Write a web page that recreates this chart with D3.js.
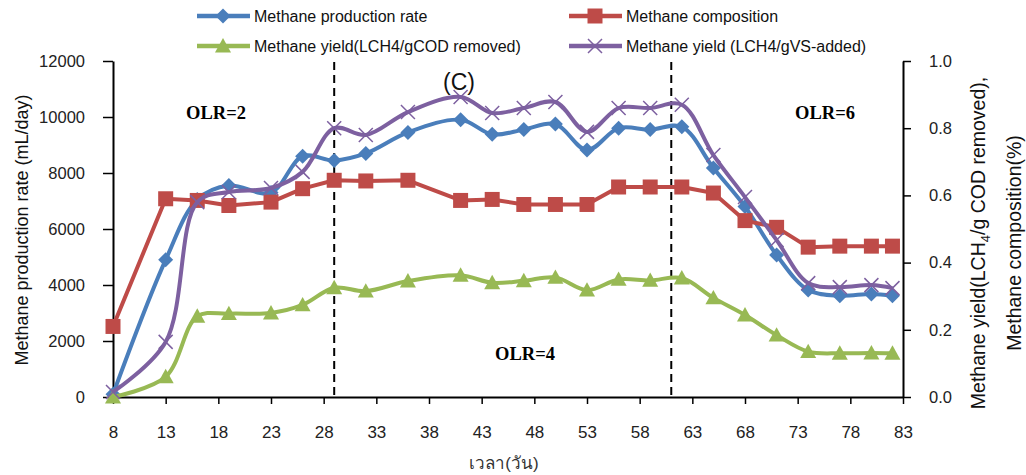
<!DOCTYPE html>
<html>
<head>
<meta charset="utf-8">
<script src="https://cdn.jsdelivr.net/npm/d3@7"></script>
<style>
  body { margin: 0; background: #fff; }
</style>
</head>
<body>
<div id="chart"></div>
<script>
// days of operation
const days = [8, 13, 16, 19, 23, 26, 29, 32, 36, 41, 44, 47, 50, 53, 56, 59, 62, 65, 68, 71, 74, 77, 80, 82];
// left axis (mL/day)
const productionRate = [100, 4900, 7050, 7550, 7300, 8600, 8450, 8700, 9450, 9900, 9380, 9550, 9750, 8820, 9600, 9550, 9650, 8180, 6800, 5070, 3820, 3620, 3680, 3620];
// right axis
const composition = [0.21, 0.59, 0.585, 0.57, 0.58, 0.62, 0.645, 0.643, 0.645, 0.585, 0.588, 0.573, 0.573, 0.573, 0.625, 0.625, 0.625, 0.607, 0.525, 0.505, 0.446, 0.449, 0.449, 0.449];
const yieldCOD = [0.0, 0.06, 0.24, 0.248, 0.25, 0.274, 0.325, 0.315, 0.345, 0.362, 0.34, 0.346, 0.356, 0.318, 0.35, 0.347, 0.354, 0.295, 0.244, 0.184, 0.135, 0.13, 0.131, 0.13];
const yieldVS = [0.015, 0.164, 0.58, 0.61, 0.622, 0.67, 0.8, 0.78, 0.848, 0.893, 0.845, 0.86, 0.878, 0.789, 0.86, 0.86, 0.87, 0.72, 0.595, 0.467, 0.339, 0.327, 0.333, 0.324];

const xTicks = d3.range(8, 84, 5);
const leftTicks = [0, 2000, 4000, 6000, 8000, 10000, 12000];
const rightTicks = [0, 0.2, 0.4, 0.6, 0.8, 1.0];
const olrBreaks = [29, 61];

const width = 1026, height = 475;
const svg = d3.select("#chart").append("svg")
    .attr("width", width)
    .attr("height", height)
    .attr("font-family", "'Liberation Sans', Arial, sans-serif");

const x = d3.scaleLinear().domain([8, 83]).range([113, 903]);
const yL = d3.scaleLinear().domain([0, 12000]).range([397, 61]);
const yR = d3.scaleLinear().domain([0, 1]).range([397, 61]);

// axes
const gx = svg.append("g")
    .attr("transform", "translate(0,397)")
    .call(d3.axisBottom(x).tickValues(xTicks).tickSize(7).tickPadding(22).tickSizeOuter(0));
const gl = svg.append("g")
    .attr("transform", "translate(113,0)")
    .call(d3.axisLeft(yL).tickValues(leftTicks).tickFormat(d3.format("d")).tickSize(10).tickPadding(18).tickSizeOuter(0));
const gr = svg.append("g")
    .attr("transform", "translate(903,0)")
    .call(d3.axisRight(yR).tickValues(rightTicks).tickFormat(d3.format(".1f")).tickSize(8).tickPadding(18).tickSizeOuter(0));

[gx, gl, gr].forEach(g => {
    g.attr("font-family", null).attr("font-size", null);
    g.select(".domain").attr("stroke", "#000").attr("stroke-width", 2);
    g.selectAll(".tick line").attr("stroke", "#000").attr("stroke-width", 1.5);
    g.selectAll(".tick text").attr("font-size", 16.5).attr("fill", "#222");
});
gx.selectAll(".tick text").attr("font-size", 17);

// axis titles
svg.append("text")
    .attr("transform", "translate(22,230) rotate(-90)")
    .attr("text-anchor", "middle")
    .attr("dy", "0.35em")
    .attr("font-size", 18)
    .attr("fill", "#111")
    .text("Methane production rate (mL/day)");

const rt = svg.append("text")
    .attr("transform", "translate(978,243) rotate(-90)")
    .attr("text-anchor", "middle")
    .attr("dy", "0.35em")
    .attr("font-size", 19.5)
    .attr("fill", "#111");
rt.append("tspan").text("Methane yield(LCH");
rt.append("tspan").attr("font-size", 13).attr("dy", 5).text("4");
rt.append("tspan").attr("dy", -5).text("/g COD removed),");

svg.append("text")
    .attr("transform", "translate(1014,243) rotate(-90)")
    .attr("text-anchor", "middle")
    .attr("dy", "0.35em")
    .attr("font-size", 19.5)
    .attr("fill", "#111")
    .text("Methane composition(%)");

svg.append("text")
    .attr("x", 504).attr("y", 469)
    .attr("text-anchor", "middle")
    .attr("font-size", 17)
    .attr("fill", "#333")
    .text("เวลา(วัน)");

// OLR separators
svg.append("g").selectAll("line")
    .data(olrBreaks)
    .enter().append("line")
    .attr("x1", d => x(d)).attr("x2", d => x(d))
    .attr("y1", 62).attr("y2", 396)
    .attr("stroke", "#000")
    .attr("stroke-width", 2)
    .attr("stroke-dasharray", "8,5");

// markers
function marker(type, s) {
    if (type === "diamond") return `M0,${-s}L${s},0L0,${s}L${-s},0Z`;
    if (type === "square") return `M${-s},${-s}H${s}V${s}H${-s}Z`;
    if (type === "triangle") return `M0,${-s}L${s},${s * 0.8}L${-s},${s * 0.8}Z`;
    return `M${-s},${-s}L${s},${s}M${s},${-s}L${-s},${s}`;
}

const series = [
    { name: "Methane production rate", values: productionRate, y: yL, color: "#4a7ebb", shape: "diamond", size: 7.5, curve: d3.curveCatmullRom },
    { name: "Methane composition", values: composition, y: yR, color: "#be4b48", shape: "square", size: 7.5, curve: d3.curveLinear },
    { name: "Methane yield(LCH4/gCOD removed)", values: yieldCOD, y: yR, color: "#98b954", shape: "triangle", size: 8, curve: d3.curveCatmullRom },
    { name: "Methane yield (LCH4/gVS-added)", values: yieldVS, y: yR, color: "#7d60a0", shape: "cross", size: 7, curve: d3.curveCatmullRom }
];

series.forEach(s => {
    const pts = days.map((d, i) => [d, s.values[i]]);
    const line = d3.line().x(d => x(d[0])).y(d => s.y(d[1])).curve(s.curve);
    svg.append("path")
        .datum(pts)
        .attr("fill", "none")
        .attr("stroke", s.color)
        .attr("stroke-width", 4)
        .attr("stroke-linejoin", "round")
        .attr("d", line);
    svg.append("g").selectAll("path")
        .data(pts)
        .enter().append("path")
        .attr("transform", d => `translate(${x(d[0])},${s.y(d[1])})`)
        .attr("d", marker(s.shape, s.size))
        .attr("fill", s.shape === "cross" ? "none" : s.color)
        .attr("stroke", s.color)
        .attr("stroke-width", s.shape === "cross" ? 1.5 : 0);
});

// legend
const legendPos = [[197, 16], [569, 16], [197, 46], [569, 46]];
series.forEach((s, i) => {
    const [lx, ly] = legendPos[i];
    const g = svg.append("g").attr("transform", `translate(${lx},${ly})`);
    g.append("line").attr("x1", 0).attr("x2", 53).attr("y1", 0).attr("y2", 0)
        .attr("stroke", s.color).attr("stroke-width", 4.5);
    g.append("path").attr("transform", "translate(26,0)")
        .attr("d", marker(s.shape, s.size))
        .attr("fill", s.shape === "cross" ? "none" : s.color)
        .attr("stroke", s.color)
        .attr("stroke-width", s.shape === "cross" ? 1.5 : 0);
    g.append("text").attr("x", 57).attr("y", 6)
        .attr("font-size", 16)
        .attr("fill", "#111")
        .text(s.name);
});

// annotations
const notes = [
    { t: "OLR=2", x: 216, y: 119 },
    { t: "OLR=4", x: 525, y: 360 },
    { t: "OLR=6", x: 825, y: 119 }
];
svg.append("g").selectAll("text")
    .data(notes)
    .enter().append("text")
    .attr("x", d => d.x).attr("y", d => d.y)
    .attr("text-anchor", "middle")
    .attr("font-family", "'Liberation Serif', 'Times New Roman', serif")
    .attr("font-weight", "bold")
    .attr("font-size", 18.5)
    .text(d => d.t);

svg.append("text")
    .attr("x", 459).attr("y", 90)
    .attr("text-anchor", "middle")
    .attr("font-size", 23)
    .attr("fill", "#111")
    .text("(C)");
</script>
</body>
</html>
